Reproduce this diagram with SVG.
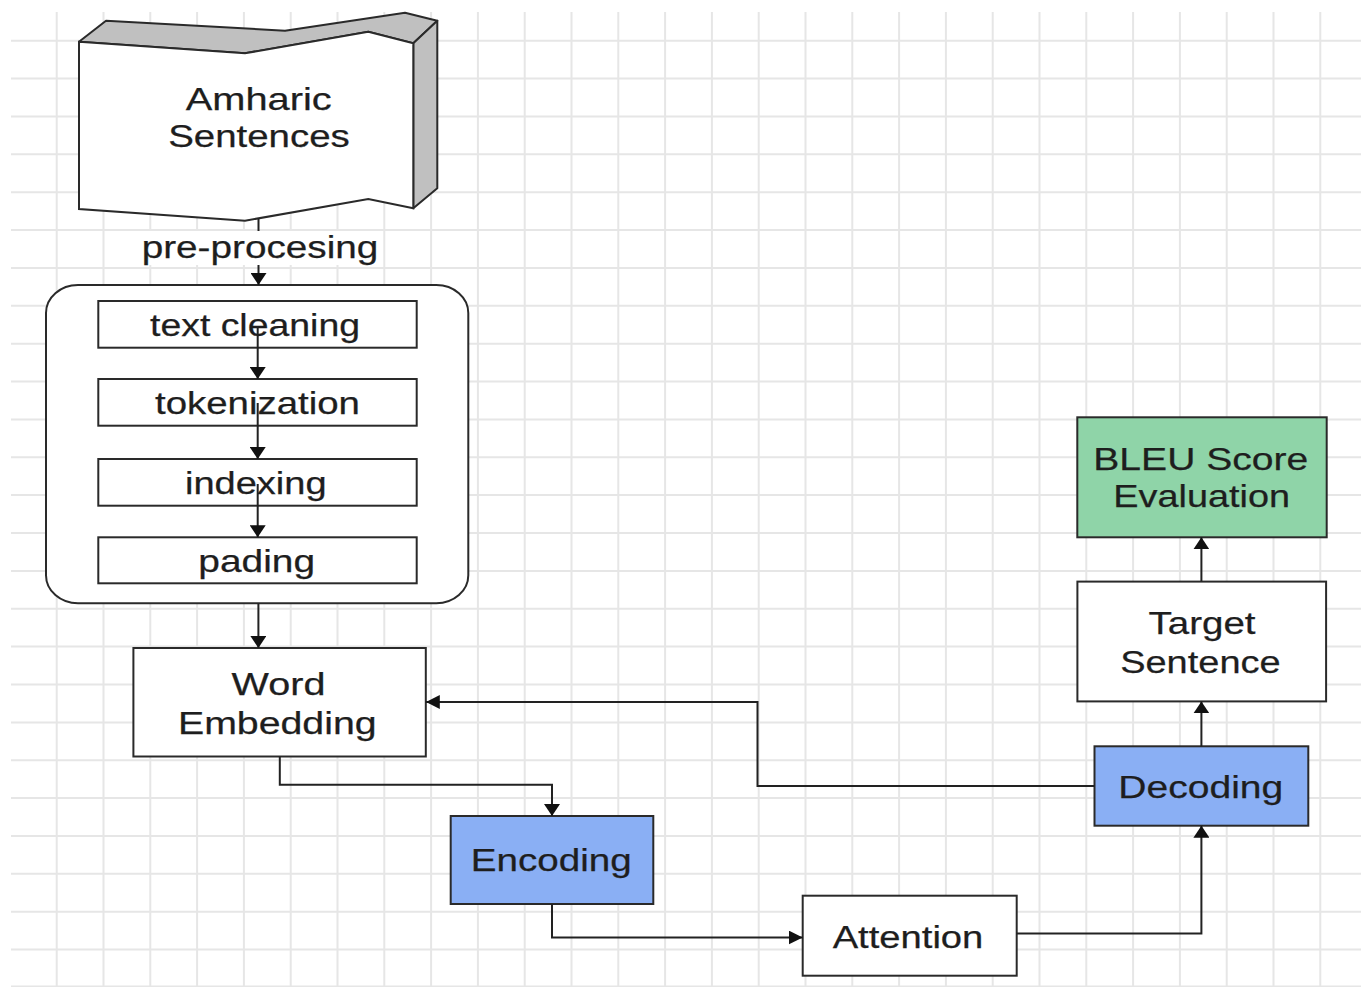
<svg xmlns="http://www.w3.org/2000/svg" width="1361" height="987" viewBox="0 0 1361 987">
<defs>
<style>
.grid line{stroke:#e6e6e6;stroke-width:2}
.box{fill:#ffffff;stroke:#2a2a2a;stroke-width:2}
.blue{fill:#8aaff4;stroke:#2a2a2a;stroke-width:2}
.green{fill:#8fd4a8;stroke:#2a2a2a;stroke-width:2}
.t{font-family:"Liberation Sans",Arial,sans-serif;font-size:31.5px;fill:#1e1e1e;text-anchor:middle;stroke:#1e1e1e;stroke-width:0.25}
.c{fill:none;stroke:#222;stroke-width:2}
</style>
<marker id="arrV" viewBox="0 0 12 16" refX="12" refY="8" markerWidth="12" markerHeight="16" orient="auto" markerUnits="userSpaceOnUse">
<path d="M0,0 L12,8 L0,16 z" fill="#111"/>
</marker>
<marker id="arrH" viewBox="0 0 14 14" refX="14" refY="7" markerWidth="14" markerHeight="14" orient="auto" markerUnits="userSpaceOnUse">
<path d="M0,0 L14,7 L0,14 z" fill="#111"/>
</marker>
</defs>
<rect width="1361" height="987" fill="#ffffff"/>
<g class="grid">
<line x1="56.7" y1="12" x2="56.7" y2="987"/><line x1="103.5" y1="12" x2="103.5" y2="987"/><line x1="150.3" y1="12" x2="150.3" y2="987"/><line x1="197.1" y1="12" x2="197.1" y2="987"/><line x1="243.9" y1="12" x2="243.9" y2="987"/><line x1="290.7" y1="12" x2="290.7" y2="987"/><line x1="337.5" y1="12" x2="337.5" y2="987"/><line x1="384.3" y1="12" x2="384.3" y2="987"/><line x1="431.1" y1="12" x2="431.1" y2="987"/><line x1="477.9" y1="12" x2="477.9" y2="987"/><line x1="524.7" y1="12" x2="524.7" y2="987"/><line x1="571.5" y1="12" x2="571.5" y2="987"/><line x1="618.3" y1="12" x2="618.3" y2="987"/><line x1="665.1" y1="12" x2="665.1" y2="987"/><line x1="711.9" y1="12" x2="711.9" y2="987"/><line x1="758.7" y1="12" x2="758.7" y2="987"/><line x1="805.5" y1="12" x2="805.5" y2="987"/><line x1="852.3" y1="12" x2="852.3" y2="987"/><line x1="899.1" y1="12" x2="899.1" y2="987"/><line x1="945.9" y1="12" x2="945.9" y2="987"/><line x1="992.7" y1="12" x2="992.7" y2="987"/><line x1="1039.5" y1="12" x2="1039.5" y2="987"/><line x1="1086.3" y1="12" x2="1086.3" y2="987"/><line x1="1133.1" y1="12" x2="1133.1" y2="987"/><line x1="1179.9" y1="12" x2="1179.9" y2="987"/><line x1="1226.7" y1="12" x2="1226.7" y2="987"/><line x1="1273.5" y1="12" x2="1273.5" y2="987"/><line x1="1320.3" y1="12" x2="1320.3" y2="987"/>
<line x1="11" y1="40.7" x2="1361" y2="40.7"/><line x1="11" y1="78.6" x2="1361" y2="78.6"/><line x1="11" y1="116.4" x2="1361" y2="116.4"/><line x1="11" y1="154.3" x2="1361" y2="154.3"/><line x1="11" y1="192.2" x2="1361" y2="192.2"/><line x1="11" y1="230.1" x2="1361" y2="230.1"/><line x1="11" y1="267.9" x2="1361" y2="267.9"/><line x1="11" y1="305.8" x2="1361" y2="305.8"/><line x1="11" y1="343.7" x2="1361" y2="343.7"/><line x1="11" y1="381.5" x2="1361" y2="381.5"/><line x1="11" y1="419.4" x2="1361" y2="419.4"/><line x1="11" y1="457.3" x2="1361" y2="457.3"/><line x1="11" y1="495.1" x2="1361" y2="495.1"/><line x1="11" y1="533" x2="1361" y2="533"/><line x1="11" y1="570.9" x2="1361" y2="570.9"/><line x1="11" y1="608.8" x2="1361" y2="608.8"/><line x1="11" y1="646.6" x2="1361" y2="646.6"/><line x1="11" y1="684.5" x2="1361" y2="684.5"/><line x1="11" y1="722.4" x2="1361" y2="722.4"/><line x1="11" y1="760.2" x2="1361" y2="760.2"/><line x1="11" y1="798.1" x2="1361" y2="798.1"/><line x1="11" y1="836" x2="1361" y2="836"/><line x1="11" y1="873.8" x2="1361" y2="873.8"/><line x1="11" y1="911.7" x2="1361" y2="911.7"/><line x1="11" y1="949.6" x2="1361" y2="949.6"/><line x1="11" y1="986.5" x2="1361" y2="986.5"/>
</g>

<g id="amharic-sentences">
<polygon points="79,41.7 106,20.7 285,30.7 405,12.7 437.3,20.7 413.3,43.3 368.3,31.7 245,53.3" fill="#c0c0c0" stroke="#2a2a2a" stroke-width="2" stroke-linejoin="round"/>
<polygon points="413.3,43.3 437.3,20.7 437.3,188.3 413.3,208.3" fill="#c0c0c0" stroke="#2a2a2a" stroke-width="2" stroke-linejoin="round"/>
<polygon points="79,41.7 245,53.3 368.3,31.7 413.3,43.3 413.3,208.3 368.3,199 245,220.7 79,209" class="box"/>
<text class="t" x="258.7" y="110" textLength="146" lengthAdjust="spacingAndGlyphs">Amharic</text>
<text class="t" x="259" y="147.3" textLength="181.7" lengthAdjust="spacingAndGlyphs">Sentences</text>
</g>

<g id="preprocessing">
<rect x="46" y="285" width="422.3" height="318.3" rx="32" ry="28" class="box"/>
</g>
<g id="text-cleaning">
<rect x="98.3" y="301" width="318.4" height="46.7" class="box"/>
<text class="t" x="255" y="335.5" textLength="210" lengthAdjust="spacingAndGlyphs">text cleaning</text>
</g>
<g id="tokenization">
<rect x="98.3" y="379" width="318.4" height="46.7" class="box"/>
<text class="t" x="257.5" y="413.6" textLength="205" lengthAdjust="spacingAndGlyphs">tokenization</text>
</g>
<g id="indexing">
<rect x="98.3" y="459" width="318.4" height="46.7" class="box"/>
<text class="t" x="255.8" y="493.6" textLength="141.7" lengthAdjust="spacingAndGlyphs">indexing</text>
</g>
<g id="pading">
<rect x="98.3" y="537.3" width="318.4" height="46" class="box"/>
<text class="t" x="256.7" y="571.6" textLength="116.7" lengthAdjust="spacingAndGlyphs">pading</text>
</g>

<g id="word-embedding">
<rect x="133.4" y="648" width="292.4" height="108.5" class="box"/>
<text class="t" x="278.5" y="694.7" textLength="93.8" lengthAdjust="spacingAndGlyphs">Word</text>
<text class="t" x="277.3" y="733.7" textLength="198.7" lengthAdjust="spacingAndGlyphs">Embedding</text>
</g>
<g id="encoding">
<rect x="450.7" y="816" width="202.6" height="88" class="blue"/>
<text class="t" x="551.2" y="871" textLength="161" lengthAdjust="spacingAndGlyphs">Encoding</text>
</g>
<g id="attention">
<rect x="802.7" y="895.7" width="214" height="80" class="box"/>
<text class="t" x="908" y="948" textLength="150.7" lengthAdjust="spacingAndGlyphs">Attention</text>
</g>
<g id="decoding">
<rect x="1094.5" y="746.3" width="213.8" height="79.4" class="blue"/>
<text class="t" x="1200.8" y="798" textLength="165" lengthAdjust="spacingAndGlyphs">Decoding</text>
</g>
<g id="target-sentence">
<rect x="1077.4" y="581.6" width="248.7" height="119.8" class="box"/>
<text class="t" x="1202" y="634" textLength="107" lengthAdjust="spacingAndGlyphs">Target</text>
<text class="t" x="1200.4" y="672.6" textLength="160.4" lengthAdjust="spacingAndGlyphs">Sentence</text>
</g>
<g id="bleu">
<rect x="1077.3" y="417.3" width="249.4" height="120" class="green"/>
<text class="t" x="1200.8" y="470" textLength="215" lengthAdjust="spacingAndGlyphs">BLEU Score</text>
<text class="t" x="1201.7" y="506.7" textLength="176.7" lengthAdjust="spacingAndGlyphs">Evaluation</text>
</g>

<g id="connectors">
<path class="c" d="M258.5,218.3 L258.5,285" marker-end="url(#arrV)"/>
<rect x="140" y="231" width="240" height="34" fill="#ffffff"/>
<text class="t" x="260" y="258.3" textLength="236.7" lengthAdjust="spacingAndGlyphs">pre-procesing</text>
<path class="c" d="M257.7,326 L257.7,379" marker-end="url(#arrV)"/>
<path class="c" d="M257.7,403 L257.7,459" marker-end="url(#arrV)"/>
<path class="c" d="M257.7,484 L257.7,537.3" marker-end="url(#arrV)"/>
<path class="c" d="M258.4,603.3 L258.4,648" marker-end="url(#arrV)"/>
<path class="c" d="M279.8,756.5 L279.8,784.7 L552,784.7 L552,816" marker-end="url(#arrV)"/>
<path class="c" d="M552,904 L552,937.5 L802.7,937.5" marker-end="url(#arrH)"/>
<path class="c" d="M1016.7,933.5 L1201.4,933.5 L1201.4,825.7" marker-end="url(#arrV)"/>
<path class="c" d="M1094.5,786 L757.5,786 L757.5,702 L425.8,702" marker-end="url(#arrH)"/>
<path class="c" d="M1201.4,746.3 L1201.4,701.4" marker-end="url(#arrV)"/>
<path class="c" d="M1201.4,581.6 L1201.4,537.3" marker-end="url(#arrV)"/>
</g>
</svg>
